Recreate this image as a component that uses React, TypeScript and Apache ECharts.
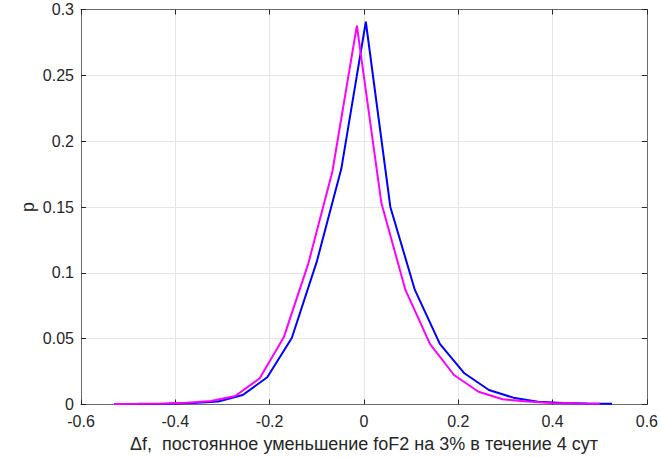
import React, { useEffect, useRef } from "react";
import * as echarts from "echarts";

// Bin centres and probabilities
const blueX = [-0.518, -0.466, -0.414, -0.362, -0.309, -0.257, -0.205, -0.153, -0.100, -0.048, 0.004, 0.056, 0.108, 0.161, 0.213, 0.265, 0.317, 0.369, 0.422, 0.474, 0.526];
const blueP = [0.0003, 0.0004, 0.0006, 0.0012, 0.0023, 0.0072, 0.0207, 0.0505, 0.1085, 0.179, 0.2907, 0.150, 0.087, 0.046, 0.0237, 0.011, 0.0052, 0.0021, 0.0012, 0.0008, 0.0005];
const magX = [-0.530, -0.479, -0.427, -0.376, -0.324, -0.273, -0.221, -0.170, -0.118, -0.067, -0.015, 0.037, 0.088, 0.140, 0.191, 0.243, 0.294, 0.346, 0.397, 0.449, 0.500];
const magP = [0.0003, 0.0005, 0.0008, 0.0014, 0.0027, 0.0065, 0.0199, 0.051, 0.107, 0.1768, 0.2877, 0.153, 0.087, 0.046, 0.0224, 0.0097, 0.004, 0.0022, 0.0012, 0.0008, 0.0005];

const xTitle = "Δf,  постоянное уменьшение foF2 на 3% в течение 4 сут";
const yTitle = "p";

const FONT = "'Liberation Sans', Arial, Helvetica, sans-serif";
const TXT = "#262626";
const AXIS = "#6b6b6b";
const GRID = "#e5e5e5";

export default function App() {
  const ref = useRef<HTMLDivElement>(null);
  useEffect(() => {
    if (!ref.current) return;
    const chart = echarts.init(ref.current, undefined, { renderer: "svg" });
    const zip = (xs: number[], ys: number[]) => xs.map((x, i) => [x, ys[i]]);
    const baseX = {
      type: "value" as const,
      min: -0.6,
      max: 0.6,
      interval: 0.2,
    };
    const baseY = {
      type: "value" as const,
      min: 0,
      max: 0.3,
      interval: 0.05,
    };
    chart.setOption({
      animation: false,
      backgroundColor: "#ffffff",
      grid: { left: 81, right: 14, top: 9.5, bottom: 53.5, containLabel: false },
      xAxis: [
        {
          ...baseX,
          position: "bottom",
          name: xTitle,
          nameLocation: "middle",
          nameGap: 30,
          nameTextStyle: { fontFamily: FONT, fontSize: 18, color: TXT },
          axisLine: { show: true, onZero: false, lineStyle: { color: AXIS, width: 1 } },
          axisTick: { show: true, inside: true, length: 5, lineStyle: { color: TXT } },
          axisLabel: { fontFamily: FONT, fontSize: 16, color: TXT, margin: 9 },
          splitLine: { show: true, lineStyle: { color: GRID, width: 1 } },
        },
        {
          ...baseX,
          position: "top",
          axisLine: { show: true, onZero: false, lineStyle: { color: AXIS, width: 1 } },
          axisTick: { show: true, inside: true, length: 5, lineStyle: { color: TXT } },
          axisLabel: { show: false },
          splitLine: { show: false },
        },
      ],
      yAxis: [
        {
          ...baseY,
          position: "left",
          name: yTitle,
          nameLocation: "middle",
          nameGap: 44,
          nameMoveOverlap: false,
          nameRotate: 90,
          nameTextStyle: { fontFamily: FONT, fontSize: 18, color: TXT },
          axisLine: { show: true, onZero: false, lineStyle: { color: AXIS, width: 1 } },
          axisTick: { show: true, inside: true, length: 5, lineStyle: { color: TXT } },
          axisLabel: { fontFamily: FONT, fontSize: 16, color: TXT, margin: 7 },
          splitLine: { show: true, lineStyle: { color: GRID, width: 1 } },
        },
        {
          ...baseY,
          position: "right",
          axisLine: { show: true, onZero: false, lineStyle: { color: AXIS, width: 1 } },
          axisTick: { show: true, inside: true, length: 5, lineStyle: { color: TXT } },
          axisLabel: { show: false },
          splitLine: { show: false },
        },
      ],
      series: [
        {
          type: "line",
          data: zip(blueX, blueP),
          xAxisIndex: 0,
          yAxisIndex: 0,
          showSymbol: false,
          symbol: "none",
          lineStyle: { color: "#0000ff", width: 2 },
          z: 3,
        },
        {
          type: "line",
          data: zip(magX, magP),
          xAxisIndex: 0,
          yAxisIndex: 0,
          showSymbol: false,
          symbol: "none",
          lineStyle: { color: "#ff00ff", width: 2 },
          z: 4,
        },
      ],
    });
    return () => chart.dispose();
  }, []);
  return (
    <div
      ref={ref}
      style={{ position: "fixed", left: 0, top: 0, width: 661, height: 458, background: "#fff" }}
    />
  );
}
